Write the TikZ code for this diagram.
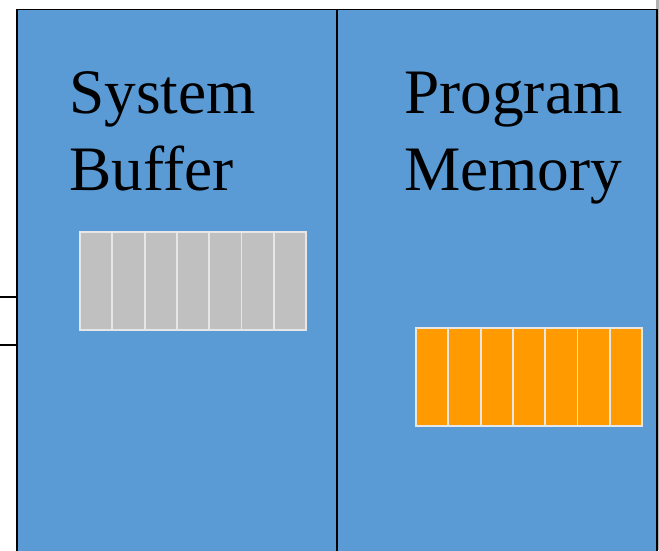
\documentclass[tikz,border=0pt]{standalone}
\usepackage{fontspec}
\setmainfont{Liberation Serif}
\usepackage{xcolor}
\usetikzlibrary{positioning}
\definecolor{panelblue}{HTML}{5B9BD5}
\definecolor{slotgray}{HTML}{C0C0C0}
\definecolor{slotorange}{HTML}{FF9A00}
\definecolor{slotedge}{HTML}{E6E6E6}

\begin{document}
\begin{tikzpicture}[x=0.75pt, y=-0.75pt,
		panel/.style={draw=black, line width=1pt, fill=panelblue,
			rectangle, minimum width=240pt, minimum height=413pt, inner sep=0pt},
		cell/.style={draw=slotedge, line width=1.4pt, rectangle,
			minimum width=24.2pt, minimum height=73.5pt, inner sep=0pt},
		title/.style={align=left, anchor=base west, inner sep=0pt,
			font=\fontsize{47.5}{57.5}\selectfont}]
		\useasboundingbox (0,0) rectangle (659,550);
		\clip (0,0) rectangle (659,550);
		%% Outer edge
		\fill [gray!60] (656,0) rectangle (659,550);
		\node [draw=black, line width=1.2pt, minimum width=40pt, minimum height=36pt,
			inner sep=0pt] (in) at (-10,321) {};
		%% Panels
		\node [panel] (buf) at (177,284.5) {};
		\node [panel] (mem) at (497,284.5) {};
		\node [title] (buflabel) at (69,190) {System\\Buffer};
		\node [title] (memlabel) at (404,190) {Program\\Memory};
		%% Slots
		\foreach \i in {0,...,6}
			\node [cell, fill=slotgray] (b\i) at ({80+32.3*(\i+0.5)},281) {};
		\foreach \i in {0,...,6}
			\node [cell, fill=slotorange] (m\i) at ({416+32.3*(\i+0.5)},377) {};
	\end{tikzpicture}
\end{document}
